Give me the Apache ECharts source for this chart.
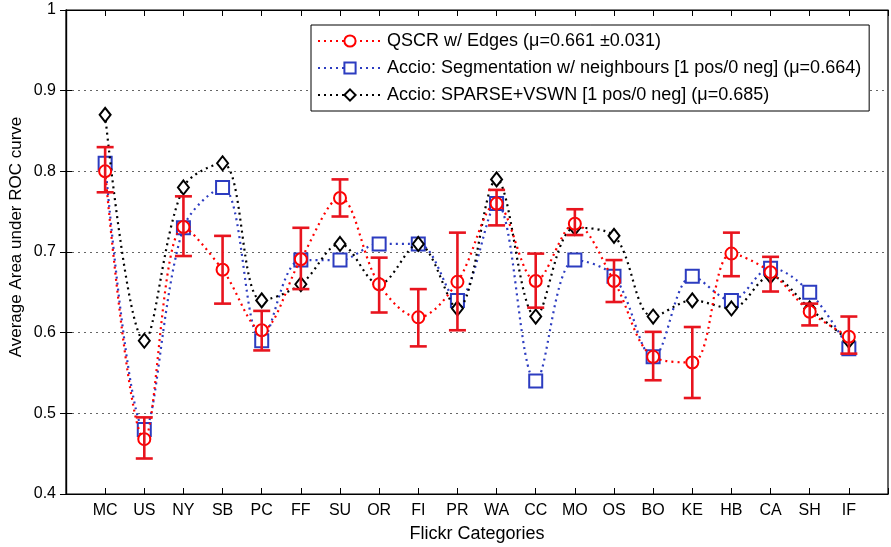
<!DOCTYPE html>
<html><head><meta charset="utf-8">
<script src="https://cdn.jsdelivr.net/npm/echarts@6/dist/echarts.min.js"></script>
<style>html,body{margin:0;padding:0;background:#fff}#c{width:891px;height:547px}</style>
</head><body><div id="c"></div>
<script>
var categories = ['MC','US','NY','SB','PC','FF','SU','OR','FI','PR','WA','CC','MO','OS','BO','KE','HB','CA','SH','IF'];
var qscrMean = [0.800,0.468,0.731,0.678,0.603,0.691,0.767,0.660,0.619,0.663,0.760,0.664,0.735,0.664,0.570,0.563,0.698,0.675,0.626,0.595];
var qscrLow  = [0.774,0.444,0.695,0.636,0.578,0.654,0.744,0.625,0.583,0.603,0.733,0.631,0.721,0.638,0.541,0.519,0.670,0.651,0.609,0.574];
var qscrHigh = [0.830,0.495,0.769,0.720,0.627,0.730,0.790,0.693,0.654,0.724,0.777,0.698,0.753,0.690,0.601,0.607,0.724,0.694,0.636,0.620];
var segValues = [0.81,0.48,0.73,0.78,0.59,0.69,0.69,0.71,0.71,0.64,0.76,0.54,0.69,0.67,0.57,0.67,0.64,0.68,0.65,0.58];
var sparseValues = [0.87,0.59,0.78,0.81,0.64,0.66,0.71,0.66,0.71,0.63,0.79,0.62,0.73,0.72,0.62,0.64,0.63,0.67,0.63,0.59];
var seriesNames = ['QSCR w/ Edges (\u03bc=0.661 \u00b10.031)','Accio: Segmentation w/ neighbours [1 pos/0 neg] (\u03bc=0.664)','Accio: SPARSE+VSWN [1 pos/0 neg] (\u03bc=0.685)'];
var yTitle = 'Average Area under ROC curve';
var xTitle = 'Flickr Categories';

function pts(arr){ return arr.map(function(v,i){ return [i+1, v]; }); }
var errData = categories.map(function(c,i){ return [i+1, qscrLow[i], qscrHigh[i]]; });

var font = 'Liberation Sans, Arial, sans-serif';
var tick = {show:true,inside:true,length:6,lineStyle:{color:'#000'}};
var chart = echarts.init(document.getElementById('c'));
chart.setOption({
  animation:false,
  backgroundColor:'#fff',
  grid:{left:66,right:3,top:10,bottom:53,show:true,borderColor:'#000',borderWidth:1.2,
        outerBoundsMode:'none',containLabel:false},
  graphic:[{type:'text',x:16,y:237,rotation:Math.PI/2,
    style:{text:yTitle,fontFamily:font,fontSize:17,fill:'#000',align:'center',verticalAlign:'middle'}}],
  legend:{
    orient:'vertical', left:311, top:25,
    backgroundColor:'#fff', borderColor:'#000', borderWidth:1, borderRadius:0,
    padding:[6,8,6,6], itemGap:7, itemWidth:64, itemHeight:14,
    textStyle:{fontFamily:font,fontSize:18,lineHeight:20,color:'#000'},
    data:seriesNames
  },
  xAxis:[{type:'value',min:0,max:21,interval:1,
    axisLine:{show:true,lineStyle:{color:'#000',width:1.2}},
    axisTick:tick,
    splitLine:{show:false},
    axisLabel:{fontFamily:font,fontSize:16,color:'#000',margin:9,
      formatter:function(v){ return (v>=1 && v<=20) ? categories[v-1] : ''; }},
    name:xTitle,nameLocation:'middle',nameGap:31,
    nameTextStyle:{fontFamily:font,fontSize:18,color:'#000'}
  },{type:'value',min:0,max:21,interval:1,position:'top',
    axisLine:{show:true,lineStyle:{color:'#000',width:1.2}},
    axisTick:tick,axisLabel:{show:false},splitLine:{show:false}
  }],
  yAxis:[{type:'value',min:0.4,max:1,interval:0.1,
    axisLine:{show:true,lineStyle:{color:'#000',width:1.2}},
    axisTick:tick,
    splitLine:{show:true,lineStyle:{color:'#666',type:[2,4],width:1}},
    axisLabel:{fontFamily:font,fontSize:16,color:'#000',margin:10,
      formatter:function(v){ return v===1?'1':v.toFixed(1); }}
  },{type:'value',min:0.4,max:1,interval:0.1,position:'right',
    axisLine:{show:true,lineStyle:{color:'#000',width:1.2}},
    axisTick:tick,axisLabel:{show:false},splitLine:{show:false}
  }],
  series:[
    {name:seriesNames[1],type:'line',data:pts(segValues),smooth:0.35,
     symbol:'emptyRect',symbolSize:13,
     lineStyle:{color:'#2c3cc0',width:2.2,type:[2,4]},
     itemStyle:{color:'#2c3cc0',borderWidth:2.2},z:3},
    {name:seriesNames[2],type:'line',data:pts(sparseValues),smooth:0.35,
     symbol:'emptyDiamond',symbolSize:[11,14],
     lineStyle:{color:'#000',width:2.2,type:[2,4]},
     itemStyle:{color:'#000',borderWidth:2.5},z:4},
    {name:seriesNames[0],type:'line',data:pts(qscrMean),smooth:0.35,
     symbol:'emptyCircle',symbolSize:12,
     lineStyle:{color:'#ff0000',width:2.2,type:[2,4]},
     itemStyle:{color:'#ff0000',borderWidth:1.6},z:5},
    {name:'err',type:'custom',data:errData,z:6,
     renderItem:function(params,api){
       var x=api.value(0);
       var lo=api.coord([x,api.value(1)]);
       var hi=api.coord([x,api.value(2)]);
       var w=8.5;
       var st={stroke:'#e8141e',lineWidth:2.6};
       return {type:'group',children:[
         {type:'line',shape:{x1:hi[0],y1:hi[1],x2:lo[0],y2:lo[1]},style:st},
         {type:'line',shape:{x1:hi[0]-w,y1:hi[1],x2:hi[0]+w,y2:hi[1]},style:st},
         {type:'line',shape:{x1:lo[0]-w,y1:lo[1],x2:lo[0]+w,y2:lo[1]},style:st}
       ]};
     }}
  ]
});
</script></body></html>
